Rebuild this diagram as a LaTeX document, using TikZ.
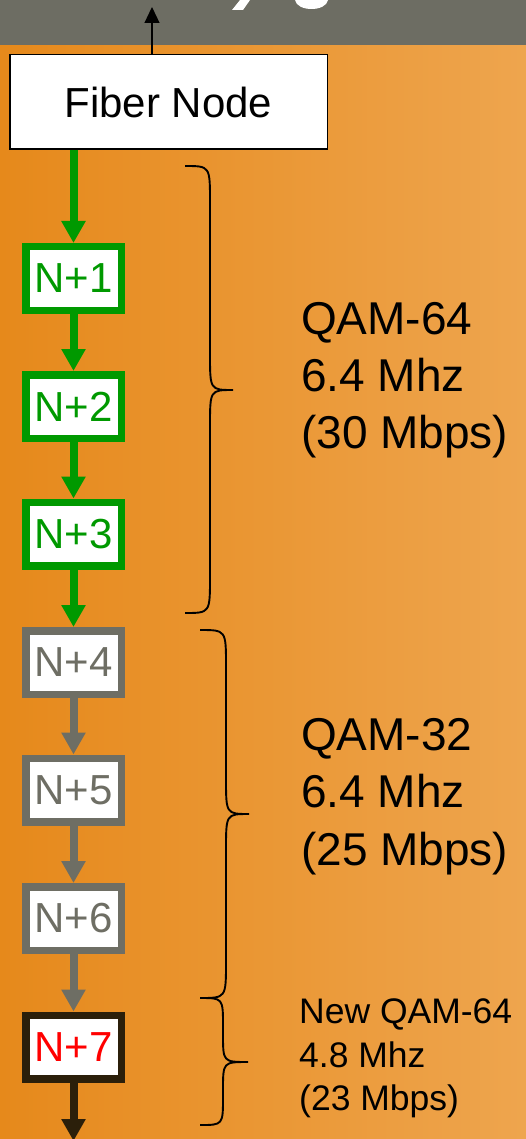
\documentclass[tikz,border=0pt]{standalone}
\usepackage{fontspec}
\setmainfont{Liberation Sans}
\usetikzlibrary{arrows.meta}
\definecolor{bandgray}{HTML}{6D6D63}
\definecolor{orgA}{HTML}{E6891B}
\definecolor{orgB}{HTML}{EEA54E}
\definecolor{grn}{HTML}{009900}
\definecolor{gry}{HTML}{6E6E64}
\definecolor{brn}{HTML}{2B1F0A}
\newcommand\mybrace[7]{%
  \draw[bracestyle] (#1,#4) .. controls (#2,#4) .. (#2,#4+#7) -- (#2,#5-#7)
    .. controls (#2,#5) .. (#3,#5) .. controls (#2,#5) .. (#2,#5+#7)
    -- (#2,#6-#7) .. controls (#2,#6) .. (#1,#6);}
\begin{document}
\begin{tikzpicture}[x=1pt,y=-1pt,
  nbox/.style={draw=#1,line width=7.5pt,fill=white,minimum width=95.5pt,
    minimum height=63.5pt,inner sep=0pt,text=#1,font=\fontsize{42}{48}\selectfont},
  link/.style={draw=#1,line width=8pt,-{Triangle[width=23pt,length=22pt]},fill=#1},
  bracestyle/.style={draw=black,line width=1.9pt},
  bigtxt/.style={anchor=base west,inner sep=0pt,font=\fontsize{46}{52}\selectfont},
  smalltxt/.style={anchor=base west,inner sep=0pt,font=\fontsize{35.5}{40}\selectfont}]
\useasboundingbox (0,0) rectangle (526,1139);
\begin{scope}
\clip (0,0) rectangle (526,1139);
\shade[left color=orgA,right color=orgB] (0,0) rectangle (526,1139);
\fill[bandgray] (0,0) rectangle (526,45);
\fill[white] (240,0) -- (250,0) -- (243,10) -- (232,10) -- cycle;
\fill[white] (295,0) .. controls (297,12) and (326,12) .. (328,0) -- cycle;
\coordinate (up) at (152,7);
\coordinate (down) at (73.5,1141);
\node[draw=black,line width=1.5pt,fill=white,minimum width=317.5pt,minimum height=94.5pt,
  inner sep=0pt,font=\fontsize{42}{48}\selectfont] (fiber) at (168.5,102) {Fiber Node};
\node[nbox=grn] (n1) at (73.5,278.5) {N+1};
\node[nbox=grn] (n2) at (73.5,406.5) {N+2};
\node[nbox=grn] (n3) at (73.5,534) {N+3};
\node[nbox=gry] (n4) at (73.5,662.5) {N+4};
\node[nbox=gry] (n5) at (73.5,790) {N+5};
\node[nbox=gry] (n6) at (73.5,918.5) {N+6};
\node[nbox=brn,text=red] (n7) at (73.5,1047) {N+7};
\draw[line width=1.2pt,-{Triangle[width=15pt,length=16pt]}] (fiber.north -| up) -- (up);
\draw[link=grn] (fiber.south -| n1) -- (n1.north);
\draw[link=grn] (n1) -- (n2);
\draw[link=grn] (n2) -- (n3);
\draw[link=grn] (n3) -- (n4);
\draw[link=gry] (n4) -- (n5);
\draw[link=gry] (n5) -- (n6);
\draw[link=gry] (n6) -- (n7);
\draw[link=brn] (n7) -- (down);
\mybrace{185}{210}{233}{166}{390}{613}{36}
\mybrace{200}{226}{249}{630}{814}{998}{36}
\mybrace{200}{223}{248}{998}{1062}{1125}{28}
\node[bigtxt] (a1) at (301,334) {QAM-64};
\node[bigtxt] (a2) at (301,391) {6.4 Mhz};
\node[bigtxt] (a3) at (301,448) {(30 Mbps)};
\node[bigtxt] (b1) at (301,750) {QAM-32};
\node[bigtxt] (b2) at (301,807) {6.4 Mhz};
\node[bigtxt] (b3) at (301,865) {(25 Mbps)};
\node[smalltxt] (c1) at (299,1023) {New QAM-64};
\node[smalltxt] (c2) at (299,1067) {4.8 Mhz};
\node[smalltxt] (c3) at (299,1110) {(23 Mbps)};
\end{scope}
\end{tikzpicture}
\end{document}
